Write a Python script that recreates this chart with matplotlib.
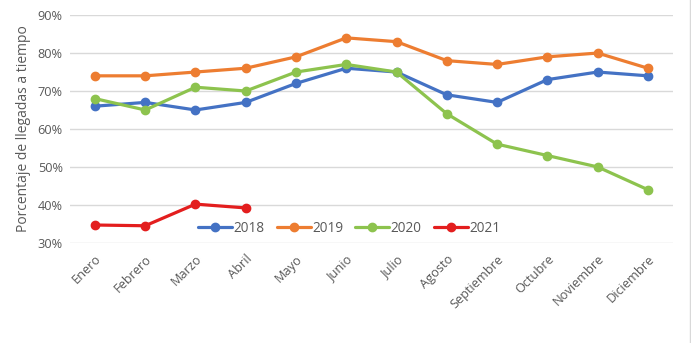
import matplotlib.pyplot as plt
from matplotlib.lines import Line2D
from matplotlib.ticker import PercentFormatter

meses = ['Enero', 'Febrero', 'Marzo', 'Abril', 'Mayo', 'Junio', 'Julio',
         'Agosto', 'Septiembre', 'Octubre', 'Noviembre', 'Diciembre']
y2018 = [66, 67, 65, 67, 72, 76, 75, 69, 67, 73, 75, 74]
y2019 = [74, 74, 75, 76, 79, 84, 83, 78, 77, 79, 80, 76]
y2020 = [68, 65, 71, 70, 75, 77, 75, 64, 56, 53, 50, 44]
y2021 = [34.7, 34.5, 40.2, 39.2]

series = [('2018', y2018, '#4472C4'),
          ('2019', y2019, '#ED7D31'),
          ('2020', y2020, '#8DC34E'),
          ('2021', y2021, '#E31E1E')]

plt.rcParams['font.family'] = ['Open Sans', 'DejaVu Sans']
gris = '#595959'

fig = plt.figure(figsize=(6.91, 3.43), dpi=100)
ax = fig.add_axes([0.101, 0.292, 0.873, 0.664])

for nombre, vals, color in series:
    ax.plot(range(len(vals)), vals, color=color, lw=2.3, marker='o',
            markersize=6, label=nombre, solid_capstyle='round')

ax.set_xlim(-0.5, 11.5)
ax.set_ylim(30, 90)
ax.set_yticks(range(30, 91, 10))
ax.yaxis.set_major_formatter(PercentFormatter(decimals=0))
ax.set_xticks(range(len(meses)))
ax.set_xticklabels(meses, rotation=45, ha='right', rotation_mode='anchor')
ax.tick_params(axis='both', length=0, labelsize=9.2, labelcolor=gris)
ax.tick_params(axis='x', pad=7)
ax.tick_params(axis='y', pad=5)
ax.grid(axis='y', color='#D9D9D9', lw=1)
ax.set_axisbelow(True)
for s in ax.spines.values():
    s.set_visible(False)

ax.set_ylabel('Porcentaje de llegadas a tiempo', color=gris, fontsize=10, labelpad=5)

ax.legend(loc='lower center', bbox_to_anchor=(0.463, 0.0), ncol=4, frameon=False,
          fontsize=9.8, labelcolor=gris, handlelength=2.5, handletextpad=0.1,
          columnspacing=0.9, borderaxespad=0.1)

fig.add_artist(Line2D([0.9985, 0.9985], [0, 1], color='#D9D9D9', lw=1))

fig.savefig('out.png', dpi=100)
